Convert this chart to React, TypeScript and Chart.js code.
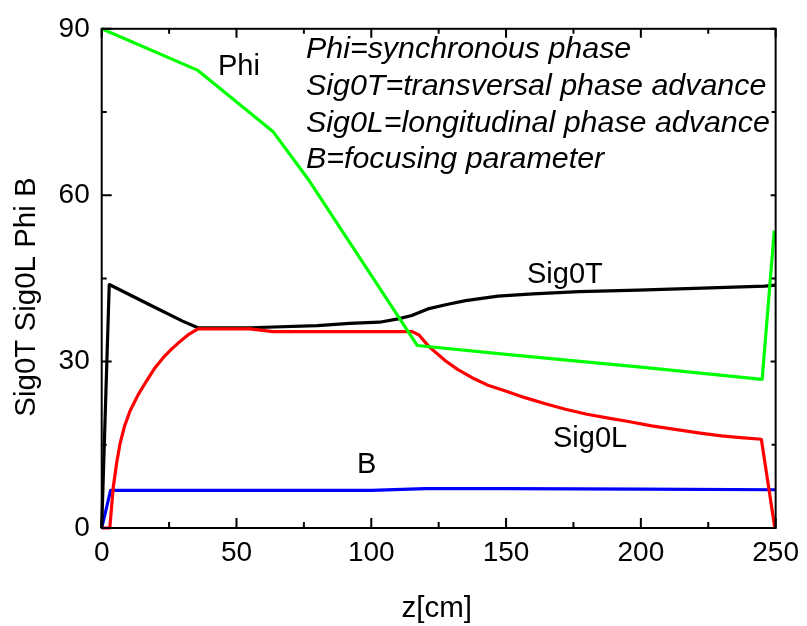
import React, { useEffect, useRef } from "react";
import { Chart, registerables } from "chart.js";

Chart.register(...registerables);

// ---- data ----
const phiZ = [0, 35.7, 63.5, 77, 117.1, 150, 200, 245, 249.5];
const phiVal = [90, 82.5, 71.5, 62.6, 32.9, 31.3, 29.0, 26.8, 53.6];

const sig0TZ = [0, 2.8, 20, 30, 35.7, 55, 80, 92, 103, 110, 115, 121, 128, 135, 147, 160, 177, 199, 220, 246, 250];
const sig0TVal = [0, 43.9, 39.7, 37.3, 36.1, 36.1, 36.5, 36.9, 37.1, 37.7, 38.3, 39.5, 40.3, 41.0, 41.8, 42.2, 42.6, 42.9, 43.2, 43.6, 43.8];

const sig0LZ = [0, 3.0, 4.3, 5.5, 6.8, 8.5, 10.5, 13.5, 16.6, 19.5, 22.8, 26, 29.0, 32, 35.7, 55, 63.5, 92, 115.2, 117.7, 121.4, 127.6, 132, 137.4, 143, 149.8, 157, 164.6, 172, 180, 188, 195.4, 204, 213.9, 222, 229.9, 237, 244.7, 249.7];
const sig0LVal = [0, 0, 7.4, 11.6, 15.2, 18.4, 21.1, 24.0, 26.5, 28.7, 30.7, 32.3, 33.6, 34.8, 35.9, 35.9, 35.4, 35.4, 35.4, 34.8, 32.7, 30.1, 28.6, 27.1, 25.8, 24.7, 23.5, 22.4, 21.4, 20.5, 19.8, 19.2, 18.4, 17.7, 17.1, 16.6, 16.3, 16.0, 0];

const bZ = [0, 3.3, 50, 100, 120, 150, 200, 250];
const bVal = [0, 6.8, 6.8, 6.8, 7.1, 7.1, 7.0, 6.9];

const xMajorTicks = [0, 50, 100, 150, 200, 250];
const xMinorTicks = [25, 75, 125, 175, 225];
const yMajorTicks = [0, 30, 60, 90];
const yMinorTicks = [15, 45, 75];

const legendLines = [
  "Phi=synchronous phase",
  "Sig0T=transversal phase advance",
  "Sig0L=longitudinal phase advance",
  "B=focusing parameter",
];
const xTitle = "z[cm]";
const yTitle = "Sig0T Sig0L Phi B";

const toPoints = (xs: number[], ys: number[]) => xs.map((x, i) => ({ x, y: ys[i] }));

const FONT = "'Liberation Sans', Arial, sans-serif";

const decorPlugin = {
  id: "decor",
  afterDraw(chart: any) {
    const { ctx, chartArea } = chart;
    const xs = chart.scales.x;
    const ys = chart.scales.y;
    const { left, right, top, bottom } = chartArea;
    ctx.save();
    ctx.strokeStyle = "#000";
    ctx.lineWidth = 2;
    ctx.strokeRect(left, top, right - left, bottom - top);
    ctx.beginPath();
    const tick = (x1: number, y1: number, x2: number, y2: number) => {
      ctx.moveTo(x1, y1);
      ctx.lineTo(x2, y2);
    };
    xMajorTicks.forEach((v) => {
      const p = xs.getPixelForValue(v);
      tick(p, bottom, p, bottom - 10);
      tick(p, top, p, top + 9);
    });
    xMinorTicks.forEach((v) => {
      const p = xs.getPixelForValue(v);
      tick(p, bottom, p, bottom - 6);
      tick(p, top, p, top + 5);
    });
    yMajorTicks.forEach((v) => {
      const p = ys.getPixelForValue(v);
      tick(left, p, left + 10, p);
      tick(right, p, right - 5, p);
    });
    yMinorTicks.forEach((v) => {
      const p = ys.getPixelForValue(v);
      tick(left, p, left + 5, p);
      tick(right, p, right - 4, p);
    });
    ctx.stroke();

    ctx.fillStyle = "#000";
    ctx.textBaseline = "alphabetic";
    ctx.textAlign = "left";
    ctx.font = `29px ${FONT}`;
    ctx.fillText("Phi", 218, 75);
    ctx.fillText("Sig0T", 527, 283);
    ctx.fillText("Sig0L", 553, 447);
    ctx.fillText("B", 357, 473);

    ctx.font = `italic 30.4px ${FONT}`;
    const baselines = [57.7, 95, 131.5, 168.3];
    legendLines.forEach((t, i) => ctx.fillText(t, 306, baselines[i]));

    ctx.font = `29.5px ${FONT}`;
    ctx.textAlign = "center";
    ctx.fillText(xTitle, (left + right) / 2 - 2, 617);

    ctx.save();
    ctx.translate(35, 297);
    ctx.rotate(-Math.PI / 2);
    ctx.fillText(yTitle, 0, 0);
    ctx.restore();
    ctx.restore();
  },
};

export default function App() {
  const ref = useRef<HTMLCanvasElement | null>(null);
  useEffect(() => {
    if (!ref.current) return;
    const lineDs = (label: string, data: any[], color: string) => ({
      label,
      data,
      borderColor: color,
      backgroundColor: color,
      borderWidth: 3.2,
      pointRadius: 0,
      tension: 0,
      borderJoinStyle: "round",
      fill: false,
      clip: 6,
    });
    const chart = new Chart(ref.current, {
      type: "line",
      data: {
        datasets: [
          lineDs("Phi", toPoints(phiZ, phiVal), "#00ff00"),
          lineDs("Sig0L", toPoints(sig0LZ, sig0LVal), "#ff0000"),
          lineDs("Sig0T", toPoints(sig0TZ, sig0TVal), "#000000"),
          lineDs("B", toPoints(bZ, bVal), "#0000ff"),
        ] as any,
      },
      options: {
        animation: false,
        responsive: false,
        devicePixelRatio: 1,
        layout: { padding: { left: 0, right: 29.3, top: 25, bottom: 0 } },
        plugins: { legend: { display: false }, tooltip: { enabled: false } },
        scales: {
          x: {
            type: "linear",
            min: 0,
            max: 250,
            afterFit: (s: any) => {
              s.height = 98;
            },
            ticks: {
              stepSize: 50,
              color: "#000",
              font: { family: FONT, size: 28 },
              padding: 8,
              maxRotation: 0,
            },
            grid: { display: false, drawTicks: false },
            border: { display: false },
          },
          y: {
            type: "linear",
            min: 0,
            max: 90,
            afterFit: (s: any) => {
              s.width = 101.7;
            },
            ticks: {
              stepSize: 30,
              color: "#000",
              font: { family: FONT, size: 28 },
              padding: 12,
            },
            grid: { display: false, drawTicks: false },
            border: { display: false },
          },
        },
      },
      plugins: [decorPlugin],
    });
    return () => chart.destroy();
  }, []);
  return (
    <div style={{ position: "fixed", left: 0, top: 0, width: 807, height: 626, background: "#fff" }}>
      <canvas ref={ref} width={807} height={626} />
    </div>
  );
}
